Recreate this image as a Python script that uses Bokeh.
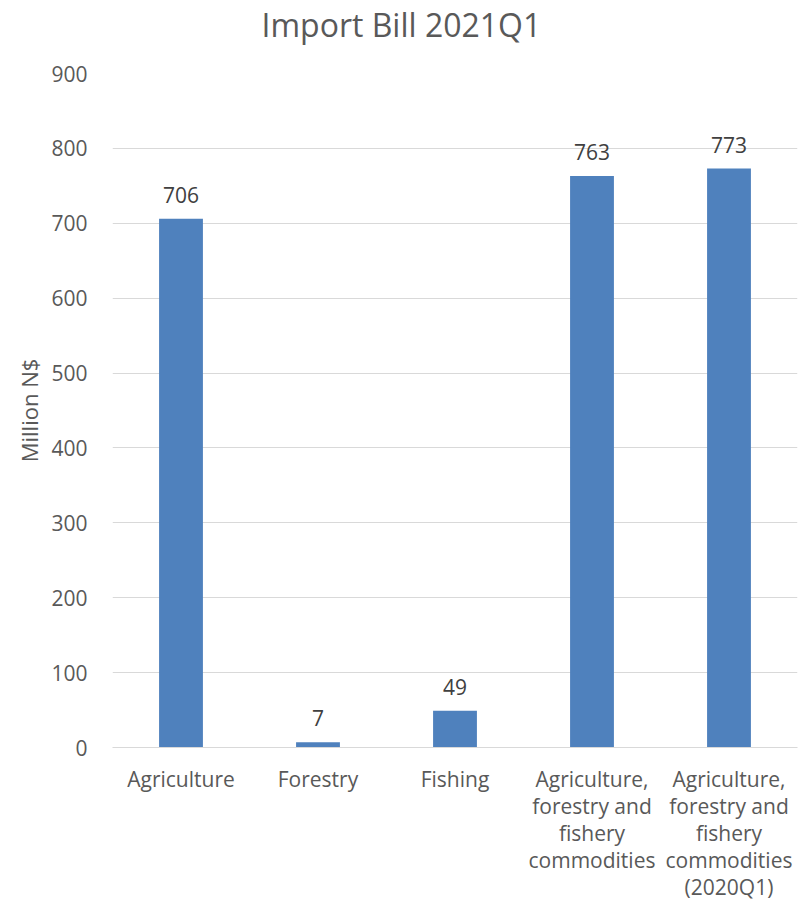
from bokeh.plotting import figure
from bokeh.models import ColumnDataSource, FactorRange, Range1d, FixedTicker, Title
from bokeh.core.properties import value
from bokeh.embed import file_html
from bokeh.resources import INLINE

categories = [
    "Agriculture",
    "Forestry",
    "Fishing",
    "Agriculture,\nforestry and\nfishery\ncommodities",
    "Agriculture,\nforestry and\nfishery\ncommodities\n(2020Q1)",
]
values = [706, 7, 49, 763, 773]
labels = [str(v) for v in values]
y_ticks = [0, 100, 200, 300, 400, 500, 600, 700, 800, 900]
title_text = "Import Bill 2021Q1"

FONT = "Open Sans"
GREY = "#595959"

src = ColumnDataSource(dict(cat=categories, val=values, lab=labels))

p = figure(
    x_range=FactorRange(*categories, range_padding=0),
    y_range=Range1d(0, 900),
    width=800, height=904,
    output_backend="svg", toolbar_location=None,
    min_border_left=112, min_border_right=3, min_border_top=73, min_border_bottom=152,
)
p.outline_line_color = None
p.background_fill_color = "white"
p.border_fill_color = "white"

# spacer between frame and title
p.add_layout(Title(text=" ", text_font_size="1px", standoff=24), "above")

p.title.text = title_text
p.title.align = "left"
p.title.offset = 149
p.title.vertical_align = "middle"
p.title.standoff = 0
p.title.text_font = FONT
p.title.text_font_size = "32px"
p.title.text_font_style = "normal"
p.title.text_color = GREY

p.vbar(x="cat", top="val", width=0.32, source=src, fill_color="#4F81BD",
       line_color=None)
p.text(x="cat", y="val", text="lab", source=src, text_align="center",
       text_baseline="bottom", y_offset=-16, text_font=value(FONT),
       text_font_size="21px", text_color="#404040")

p.yaxis.ticker = FixedTicker(ticks=y_ticks)
p.yaxis.axis_line_color = None
p.yaxis.major_tick_line_color = None
p.yaxis.minor_tick_line_color = None
p.yaxis.major_label_standoff = 19
p.yaxis.major_label_text_font = FONT
p.yaxis.major_label_text_font_size = "21px"
p.yaxis.major_label_text_color = GREY
p.yaxis.axis_label = "Million N$"
p.yaxis.axis_label_text_font = FONT
p.yaxis.axis_label_text_font_size = "22px"
p.yaxis.axis_label_text_font_style = "normal"
p.yaxis.axis_label_text_color = GREY
p.yaxis.axis_label_standoff = 4

p.xaxis.axis_line_color = "#d9d9d9"
p.xaxis.major_tick_line_color = None
p.xaxis.minor_tick_line_color = None
p.xaxis.major_label_standoff = 11
p.xaxis.major_label_text_font = FONT
p.xaxis.major_label_text_font_size = "21px"
p.xaxis.major_label_text_color = GREY
p.xaxis.major_label_text_line_height = 0.97

p.xgrid.grid_line_color = None
p.ygrid.grid_line_color = "#d9d9d9"
p.ygrid.grid_line_width = 1

open("out.html", "w").write(file_html(p, INLINE))
